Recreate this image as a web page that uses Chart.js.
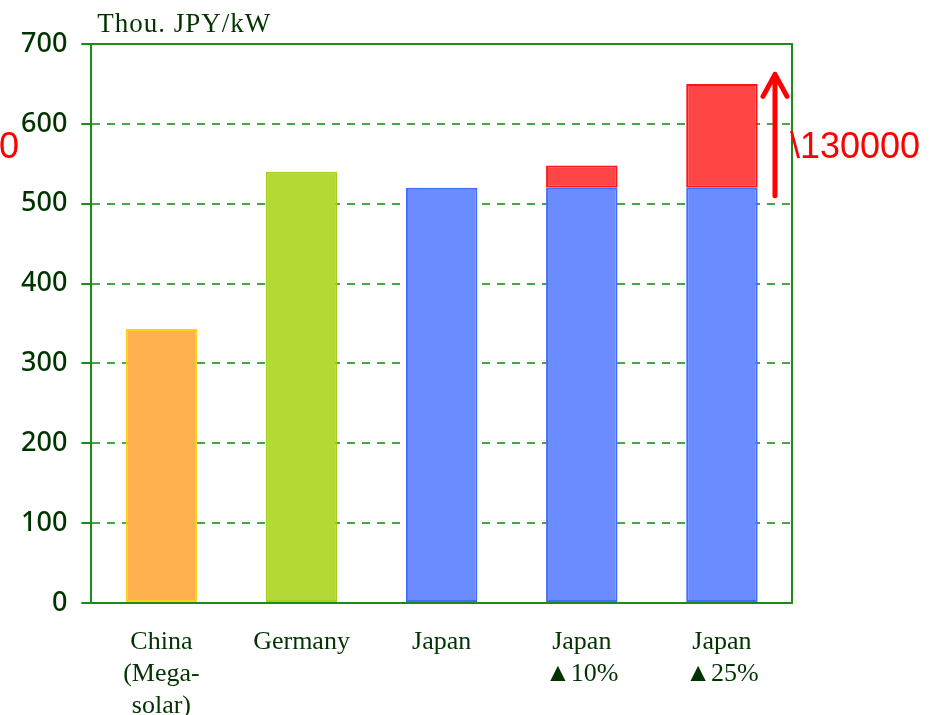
<!DOCTYPE html>
<html>
<head>
<meta charset="utf-8">
<style>
  html, body { margin: 0; padding: 0; background: #fff; }
  #wrap { width: 942px; height: 715px; position: relative; }
</style>
<script src="https://cdn.jsdelivr.net/npm/chart.js@4/dist/chart.umd.min.js"></script>
</head>
<body>
<div id="wrap"><canvas id="c"></canvas></div>
<script>
/* ---- DATA --------------------------------------------------- */
const categories = [
  ['China', '(Mega-', 'solar)'],
  ['Germany'],
  ['Japan'],
  ['Japan', '\u25B210%'],
  ['Japan', '\u25B225%']
];
const baseCost = [343, 540, 520, 520, 520];
const increase = [0, 0, 0, 28, 130];
const yTicks = [0, 100, 200, 300, 400, 500, 600, 700];

const unitLabel = 'Thou. JPY/kW';
const arrowLabel = '\\130000';

const baseFill = ['#FFB04F', '#B3D936', '#6A8CFF', '#6A8CFF', '#6A8CFF'];
const baseLine = ['#FFD21A', '#A6D01E', '#3F6BFF', '#3F6BFF', '#3F6BFF'];

const DARK = '#003300';
const AXIS = '#1E8A1E';
const SERIF = '"Liberation Serif", "DejaVu Serif", serif';

/* ---- ANNOTATIONS -------------------------------------------- */
const extras = {
  id: 'extras',
  afterDraw(chart) {
    const { ctx, chartArea, scales } = chart;
    const y = scales.y;
    ctx.save();
    // unit label
    ctx.fillStyle = DARK;
    ctx.font = '27px ' + SERIF;
    ctx.letterSpacing = '1px';
    ctx.textBaseline = 'alphabetic';
    ctx.textAlign = 'left';
    ctx.fillText(unitLabel, chartArea.left + 6, 32);
    ctx.letterSpacing = '0px';

    // arrow
    const ax = chartArea.right - 17;
    const y0 = y.getPixelForValue(510);
    const y1 = y.getPixelForValue(662);
    ctx.strokeStyle = '#FF0000';
    ctx.lineWidth = 5;
    ctx.lineCap = 'round';
    ctx.lineJoin = 'round';
    ctx.beginPath();
    ctx.moveTo(ax, y0);
    ctx.lineTo(ax, y1);
    ctx.moveTo(ax - 12, y1 + 22);
    ctx.lineTo(ax, y1);
    ctx.lineTo(ax + 12, y1 + 22);
    ctx.stroke();

    // red texts
    ctx.fillStyle = '#FF0000';
    ctx.font = '36px "Liberation Sans", Arial, sans-serif';
    const ty = y.getPixelForValue(557);
    ctx.fillText(arrowLabel, chartArea.right - 2, ty);
    ctx.fillText('0', -1, ty);
    ctx.restore();
  }
};

const frame = {
  id: 'frame',
  beforeDatasetsDraw(chart) {
    const { ctx, chartArea } = chart;
    ctx.save();
    ctx.strokeStyle = AXIS;
    ctx.lineWidth = 2;
    ctx.beginPath();
    ctx.moveTo(chartArea.left, chartArea.top);
    ctx.lineTo(chartArea.right, chartArea.top);
    ctx.lineTo(chartArea.right, chartArea.bottom);
    ctx.stroke();
    ctx.restore();
  }
};

/* ---- CHART -------------------------------------------------- */
new Chart(document.getElementById('c'), {
  type: 'bar',
  data: {
    labels: categories,
    datasets: [
      {
        data: baseCost,
        backgroundColor: baseFill,
        borderColor: baseLine,
        borderWidth: 2,
        borderSkipped: false,
        categoryPercentage: 1,
        barPercentage: 0.51
      },
      {
        data: increase,
        backgroundColor: '#FF4545',
        borderColor: '#FF1414',
        borderWidth: 2,
        borderSkipped: false,
        categoryPercentage: 1,
        barPercentage: 0.51
      }
    ]
  },
  options: {
    responsive: true,
    maintainAspectRatio: false,
    animation: false,
    layout: { padding: { left: 7, right: 150, top: 44, bottom: -30 } },
    plugins: {
      legend: { display: false },
      tooltip: { enabled: false }
    },
    scales: {
      x: {
        stacked: true,
        grid: { display: false, drawTicks: false },
        border: { color: AXIS, width: 2 },
        ticks: {
          color: DARK,
          padding: 23,
          font: { family: SERIF, size: 26, lineHeight: 1.23 }
        }
      },
      y: {
        stacked: true,
        min: 0,
        max: 700,
        afterBuildTicks(axis) { axis.ticks = yTicks.map(v => ({ value: v })); },
        border: { color: AXIS, width: 2, dash: [8, 7] },
        grid: {
          color: '#45A845',
          lineWidth: 2,
          tickLength: 10,
          tickBorderDash: [],
          tickColor: AXIS
        },
        ticks: {
          color: DARK,
          padding: 14,
          font: { family: '"Noto Sans", sans-serif', size: 27, weight: '500' }
        }
      }
    }
  },
  plugins: [extras, frame]
});
</script>
</body>
</html>
